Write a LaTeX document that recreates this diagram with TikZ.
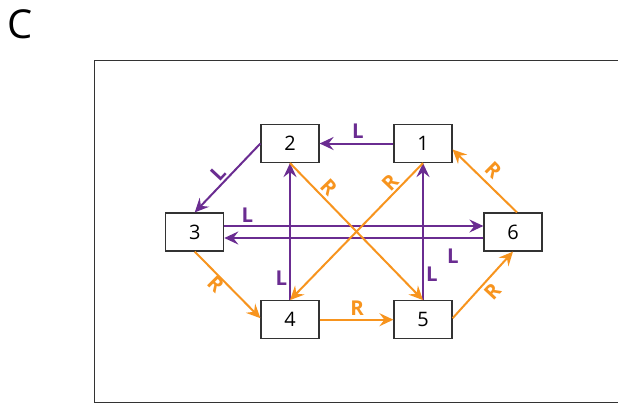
\documentclass[tikz,border=0pt]{standalone}
\usepackage{fontspec}
\setmainfont{Open Sans}
\usetikzlibrary{arrows.meta}
\definecolor{lpurple}{HTML}{6A2C91}
\definecolor{rorange}{HTML}{F7941E}
\definecolor{frame}{HTML}{333333}
\tikzset{
  state/.style={draw=frame, line width=1.2bp, fill=white, minimum width=58bp,
    minimum height=38bp, inner sep=0pt, font=\fontsize{20}{20}\selectfont},
  moveL/.style={draw=lpurple, line width=2bp,
    -{Stealth[length=14bp,width=13bp,inset=5bp]}},
  moveR/.style={draw=rorange, line width=2bp,
    -{Stealth[length=14bp,width=13bp,inset=5bp]}},
  labL/.style={text=lpurple, inner sep=0pt, font=\bfseries\fontsize{20.5}{20.5}\selectfont},
  labR/.style={text=rorange, inner sep=0pt, font=\bfseries\fontsize{20.5}{20.5}\selectfont},
}
\begin{document}
\begin{tikzpicture}[x=1bp,y=-1bp]
\useasboundingbox (0,0) rectangle (618,404);

% panel letter and frame
\node[inner sep=0pt, font=\fontsize{40}{40}\selectfont] (panel) at (20.5,24) {C};
\draw[frame, line width=1.3bp] (618,60.5) -- (94.3,60.5) -- (94.3,402.7) -- (618,402.7);

% states
\node[state] (n1) at (423,143.5) {1};
\node[state] (n2) at (290,143.5) {2};
\node[state] (n3) at (194.7,232) {3};
\node[state] (n6) at (513,232) {6};
\node[state] (n4) at (290,319.7) {4};
\node[state] (n5) at (423,319.7) {5};

% L moves
\draw[moveL] (n1.west) -- (n2.east);
\draw[moveL] (n2.west) -- (n3.north);
\draw[moveL] ([yshift=6bp]n3.east) -- ([yshift=6bp]n6.west);
\draw[moveL] ([yshift=-6bp]n6.west) -- ([yshift=-6bp]n3.east);
\draw[moveL] (n4.north) -- (n2.south);
\draw[moveL] (n5.north) -- (n1.south);

% R moves
\draw[moveR] (n2.south) -- (n5.north);
\draw[moveR] (n1.south) -- (n4.north);
\draw[moveR] ([xshift=4bp]n6.north) -- ([yshift=-6bp]n1.east);
\draw[moveR] (n3.south) -- ([yshift=1.5bp]n4.west);
\draw[moveR] (n4.east) -- (n5.west);
\draw[moveR] ([yshift=1.5bp]n5.east) -- (n6.south);

% move labels
\node[labL] (l12) at (358,131.7) {L};
\node[labL, rotate=47] (l23) at (218,173) {L};
\node[labL] (l36) at (247.5,215) {L};
\node[labL] (l63) at (453,256.3) {L};
\node[labL] (l42) at (281.3,278.7) {L};
\node[labL] (l51) at (432,274.7) {L};
\node[labR, rotate=-46] (r25) at (328.7,187.5) {R};
\node[labR, rotate=46] (r14) at (390,182.5) {R};
\node[labR, rotate=-45] (r61) at (493.3,170) {R};
\node[labR, rotate=-45] (r34) at (215.8,284.2) {R};
\node[labR] (r45) at (357,308.3) {R};
\node[labR, rotate=47] (r56) at (492.5,291.7) {R};
\end{tikzpicture}
\end{document}
